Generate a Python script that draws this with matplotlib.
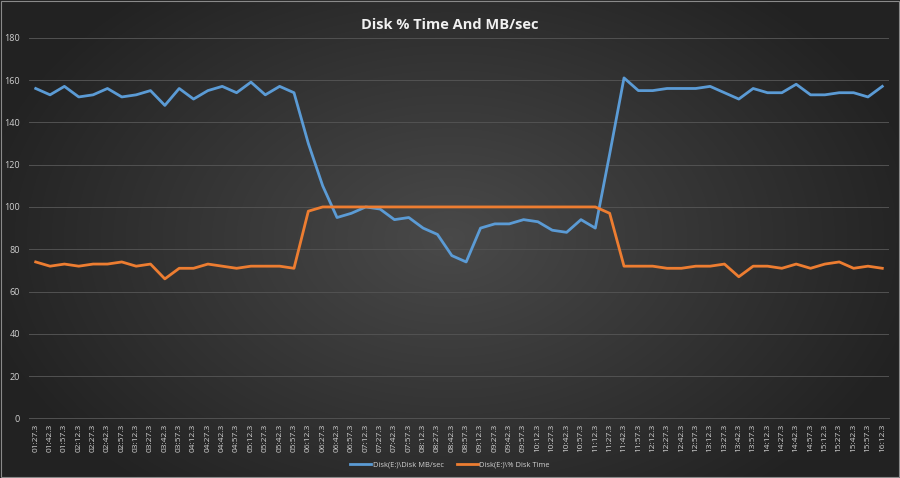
import numpy as np
import matplotlib
matplotlib.use("Agg")
import matplotlib.pyplot as plt

times = [
    "01:27.3", "01:42.3", "01:57.3", "02:12.3", "02:27.3", "02:42.3", "02:57.3", "03:12.3",
    "03:27.3", "03:42.3", "03:57.3", "04:12.3", "04:27.3", "04:42.3", "04:57.3", "05:12.3",
    "05:27.3", "05:42.3", "05:57.3", "06:12.3", "06:27.3", "06:42.3", "06:57.3", "07:12.3",
    "07:27.3", "07:42.3", "07:57.3", "08:12.3", "08:27.3", "08:42.3", "08:57.3", "09:12.3",
    "09:27.3", "09:42.3", "09:57.3", "10:12.3", "10:27.3", "10:42.3", "10:57.3", "11:12.3",
    "11:27.3", "11:42.3", "11:57.3", "12:12.3", "12:27.3", "12:42.3", "12:57.3", "13:12.3",
    "13:27.3", "13:42.3", "13:57.3", "14:12.3", "14:27.3", "14:42.3", "14:57.3", "15:12.3",
    "15:27.3", "15:42.3", "15:57.3", "16:12.3",
]

disk_mb_sec = [
    156, 153, 157, 152, 153, 156, 152, 153, 155, 148,
    156, 151, 155, 157, 154, 159, 153, 157, 154, 130,
    110, 95, 97, 100, 99, 94, 95, 90, 87, 77,
    74, 90, 92, 92, 94, 93, 89, 88, 94, 90,
    125, 161, 155, 155, 156, 156, 156, 157, 154, 151,
    156, 154, 154, 158, 153, 153, 154, 154, 152, 157,
]

disk_time_pct = [
    74, 72, 73, 72, 73, 73, 74, 72, 73, 66,
    71, 71, 73, 72, 71, 72, 72, 72, 71, 98,
    100, 100, 100, 100, 100, 100, 100, 100, 100, 100,
    100, 100, 100, 100, 100, 100, 100, 100, 100, 100,
    97, 72, 72, 72, 71, 71, 72, 72, 73, 67,
    72, 72, 71, 73, 71, 73, 74, 71, 72, 71,
]

y_ticks = [0, 20, 40, 60, 80, 100, 120, 140, 160, 180]

plt.rcParams["font.family"] = ["Open Sans", "DejaVu Sans"]

fig = plt.figure(figsize=(9, 4.78), dpi=100)

# radial gradient background
bg = fig.add_axes([0, 0, 1, 1], zorder=0)
gx, gy = np.meshgrid(np.linspace(-1, 1, 900), np.linspace(-1, 1, 478))
r = np.sqrt((gx * 0.95) ** 2 + (gy * 0.75) ** 2)
shade = np.clip(0.29 - 0.15 * r, 0.14, 0.30)
bg.imshow(shade, cmap="gray", vmin=0, vmax=1, aspect="auto", extent=[0, 1, 0, 1])
bg.set_xlim(0, 1)
bg.set_ylim(0, 1)
bg.axis("off")
bg.add_patch(plt.Rectangle((0.001, 0.002), 0.998, 0.996, fill=False,
                           edgecolor="#8a8a8a", linewidth=0.8,
                           transform=bg.transAxes))

ax = fig.add_axes([0.0317, 0.1245, 0.9566, 0.7966], zorder=1)
ax.set_facecolor("none")

x = np.arange(len(times))
ax.plot(x, disk_mb_sec, color="#5b9bd5", linewidth=2.0,
        label="Disk(E:)\\Disk MB/sec", solid_joinstyle="round")
ax.plot(x, disk_time_pct, color="#ed7d31", linewidth=2.0,
        label="Disk(E:)\\% Disk Time", solid_joinstyle="round")

ax.set_xlim(-0.5, len(times) - 0.5)
ax.set_ylim(0, 180)
ax.set_yticks(y_ticks)
ax.set_yticklabels([str(v) for v in y_ticks])
ax.set_xticks(x)
ax.set_xticklabels(times, rotation=90)
ax.grid(axis="y", color="#525252", linewidth=0.7)
ax.set_axisbelow(True)
for s in ax.spines.values():
    s.set_visible(False)
ax.spines["bottom"].set_visible(True)
ax.spines["bottom"].set_color("#525252")
ax.spines["bottom"].set_linewidth(0.7)
ax.tick_params(axis="both", length=0, colors="#d0d0d0", labelsize=6)
ax.tick_params(axis="y", labelsize=6.5, pad=6)
ax.tick_params(axis="x", pad=4)

fig.text(0.5, 0.947, "Disk % Time And MB/sec", ha="center", va="center",
         color="#f0f0f0", fontsize=10.5, fontweight="bold")

leg = fig.legend(loc="center", bbox_to_anchor=(0.5, 0.027), ncol=2,
                 frameon=False, fontsize=5.4, labelcolor="#d0d0d0",
                 handlelength=2.8, handletextpad=0.2, columnspacing=1.8)

fig.savefig("out.png", dpi=100)
